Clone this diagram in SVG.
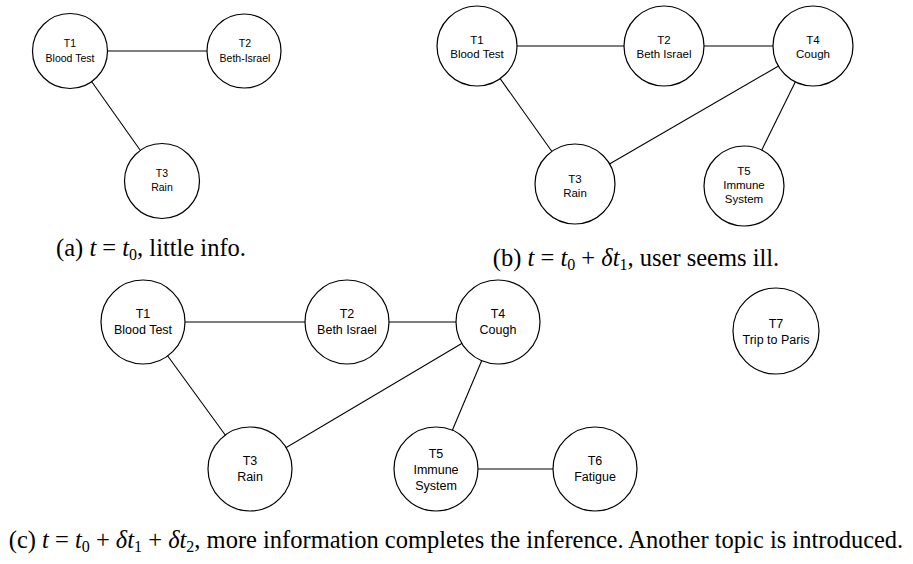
<svg xmlns="http://www.w3.org/2000/svg" width="913" height="564" viewBox="0 0 913 564">
<style>
.n circle{fill:#fff;stroke:#000;stroke-width:1.2}
.n text{font-family:"Liberation Sans",Arial,sans-serif;text-anchor:middle;fill:#000}
.a text{font-size:10.5px}
.b text{font-size:11.5px}
.c text{font-size:12.5px}
#edges line{stroke:#000;stroke-width:1.1}
.cap{font-family:"Liberation Serif","DejaVu Serif",serif;font-size:24.5px;fill:#000;text-anchor:middle}
.i{font-style:italic}
.s{font-size:16px}
</style>
<rect width="913" height="564" fill="#fff"/>
<g id="edges">
<line x1="70" y1="51" x2="244" y2="51"/>
<line x1="70" y1="51" x2="162" y2="181"/>
<line x1="477" y1="46" x2="664" y2="46"/>
<line x1="664" y1="46" x2="813" y2="46"/>
<line x1="477" y1="46" x2="575" y2="184"/>
<line x1="813" y1="46" x2="575" y2="184"/>
<line x1="813" y1="46" x2="744" y2="186"/>
<line x1="143" y1="322" x2="347" y2="322"/>
<line x1="347" y1="322" x2="498" y2="322"/>
<line x1="143" y1="322" x2="250" y2="469"/>
<line x1="498" y1="322" x2="250" y2="469"/>
<line x1="498" y1="322" x2="436" y2="469"/>
<line x1="436" y1="469" x2="595" y2="469"/>
</g>
<g id="a-T1" class="n a"><circle cx="70" cy="51" r="37.5"/><text x="70" y="47">T1</text><text x="70" y="62">Blood Test</text></g>
<g id="a-T2" class="n a"><circle cx="244" cy="51" r="37"/><text x="245" y="47">T2</text><text x="245" y="62">Beth-Israel</text></g>
<g id="a-T3" class="n a"><circle cx="162" cy="181" r="37.5"/><text x="162" y="177">T3</text><text x="162" y="191">Rain</text></g>
<g id="b-T1" class="n b"><circle cx="477" cy="46" r="40"/><text x="477" y="44">T1</text><text x="477" y="58">Blood Test</text></g>
<g id="b-T2" class="n b"><circle cx="664" cy="46" r="40"/><text x="664" y="44">T2</text><text x="664" y="58">Beth Israel</text></g>
<g id="b-T4" class="n b"><circle cx="813" cy="46" r="40"/><text x="813" y="44">T4</text><text x="813" y="58">Cough</text></g>
<g id="b-T3" class="n b"><circle cx="575" cy="184" r="40"/><text x="575" y="183">T3</text><text x="575" y="197">Rain</text></g>
<g id="b-T5" class="n b"><circle cx="744" cy="186" r="40"/><text x="744" y="175">T5</text><text x="744" y="189">Immune</text><text x="744" y="203">System</text></g>
<g id="c-T1" class="n c"><circle cx="143" cy="322" r="42"/><text x="143" y="318">T1</text><text x="143" y="334">Blood Test</text></g>
<g id="c-T2" class="n c"><circle cx="347" cy="322" r="42"/><text x="347" y="318">T2</text><text x="347" y="334">Beth Israel</text></g>
<g id="c-T4" class="n c"><circle cx="498" cy="322" r="42"/><text x="498" y="318">T4</text><text x="498" y="334">Cough</text></g>
<g id="c-T3" class="n c"><circle cx="250" cy="469" r="42"/><text x="250" y="465">T3</text><text x="250" y="481">Rain</text></g>
<g id="c-T5" class="n c"><circle cx="436" cy="469" r="42"/><text x="436" y="458">T5</text><text x="436" y="474">Immune</text><text x="436" y="490">System</text></g>
<g id="c-T6" class="n c"><circle cx="595" cy="469" r="42"/><text x="595" y="465">T6</text><text x="595" y="481">Fatigue</text></g>
<g id="c-T7" class="n c"><circle cx="776" cy="331" r="43"/><text x="776" y="328">T7</text><text x="776" y="344">Trip to Paris</text></g>
<g id="captions">
<text class="cap" x="151" y="256">(a) <tspan class="i">t</tspan> = <tspan class="i">t</tspan><tspan class="s" dy="4">0</tspan><tspan dy="-4">, little info.</tspan></text>
<text class="cap" x="636" y="266">(b) <tspan class="i">t</tspan> = <tspan class="i">t</tspan><tspan class="s" dy="4">0</tspan><tspan dy="-4"> + </tspan><tspan class="i">δt</tspan><tspan class="s" dy="4">1</tspan><tspan dy="-4">, user seems ill.</tspan></text>
<text class="cap" x="456" y="548">(c) <tspan class="i">t</tspan> = <tspan class="i">t</tspan><tspan class="s" dy="4">0</tspan><tspan dy="-4"> + </tspan><tspan class="i">δt</tspan><tspan class="s" dy="4">1</tspan><tspan dy="-4"> + </tspan><tspan class="i">δt</tspan><tspan class="s" dy="4">2</tspan><tspan dy="-4">, more information completes the inference. Another topic is introduced.</tspan></text>
</g>
</svg>
